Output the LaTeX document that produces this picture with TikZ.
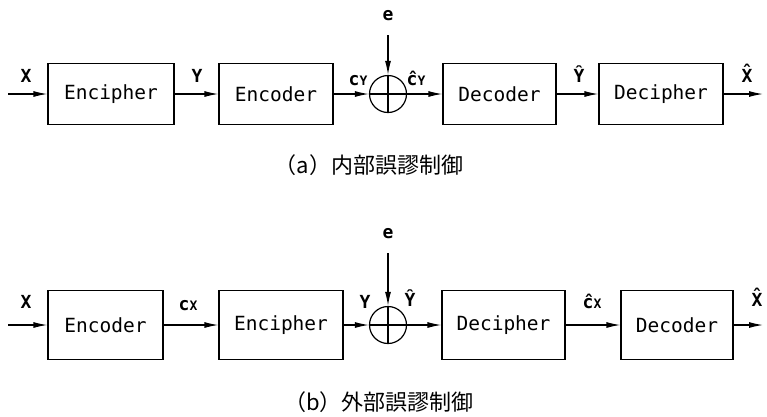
\documentclass[tikz,border=0pt]{standalone}
\usepackage{fontspec}
\setmonofont{DejaVu Sans Mono}
\newfontfamily\jpfont{Noto Sans CJK JP}
\usetikzlibrary{arrows.meta}
\begin{document}
\begin{tikzpicture}[x=1pt,y=-1pt,
 blk/.style={draw, line width=1.2pt, minimum height=61pt, inner sep=0pt, font=\fontsize{19.5}{19.5}\ttfamily},
 sumc/.style={draw, circle, line width=1.2pt, minimum size=37pt, inner sep=0pt},
 sig/.style={line width=1.2pt, -{Latex[length=14pt,width=6pt]}},
 lab/.style={font=\fontsize{18}{18}\ttfamily\bfseries, inner sep=0pt, anchor=base},
 capt/.style={font=\fontsize{22}{22}\jpfont, inner sep=0pt}]
\useasboundingbox (0,0) rectangle (767,416);
\newcommand\smY{{\fontsize{13}{13}\selectfont Y}}
\newcommand\smX{{\fontsize{13}{13}\selectfont X}}
% ---- (a) ----
\coordinate (ina) at (8,94);
\coordinate (outa) at (763,94);
\node[blk, minimum width=126pt] (a1) at (111,94) {Encipher};
\node[blk, minimum width=114pt] (a2) at (276,94) {Encoder};
\node[sumc] (ca) at (388,94) {};
\node[blk, minimum width=113pt] (a3) at (499.5,94) {Decoder};
\node[blk, minimum width=124pt] (a4) at (661,94) {Decipher};
\node[lab] (ela) at (388,20) {e};
\coordinate (ea) at (388,35);
\draw[line width=1.2pt] (ca.north) -- (ca.south) (ca.west) -- (ca.east);
\draw[sig] (ea) -- (ca.north);
\draw[sig] (ina) -- (a1.west);
\draw[sig] (a1.east) -- (a2.west);
\draw[sig] (a2.east) -- (ca.west);
\draw[sig] (ca.east) -- (a3.west);
\draw[sig] (a3.east) -- (a4.west);
\draw[sig] (a4.east) -- (outa);
\node[lab] (lxa) at (26,82) {X};
\node[lab] (lya) at (197,82) {Y};
\node[lab] (lcya) at (358,85) {c\smY};
\node[lab] (lcyha) at (416,85) {ĉ\smY};
\node[lab] (lyha) at (579,82) {Ŷ};
\node[lab] (lxha) at (747,82) {X̂};
\node[capt] (capa) at (369,165) {（a）内部誤謬制御};
% ---- (b) ----
\coordinate (inb) at (8,325);
\coordinate (outb) at (763,325);
\node[blk, minimum width=115pt, minimum height=69pt] (b1) at (105.5,325) {Encoder};
\node[blk, minimum width=124pt, minimum height=69pt] (b2) at (281,325) {Encipher};
\node[sumc] (cb) at (388,325) {};
\node[blk, minimum width=123pt, minimum height=69pt] (b3) at (503.5,325) {Decipher};
\node[blk, minimum width=112pt, minimum height=69pt] (b4) at (677,325) {Decoder};
\node[lab] (elb) at (388,238) {e};
\coordinate (eb) at (388,253);
\draw[line width=1.2pt] (cb.north) -- (cb.south) (cb.west) -- (cb.east);
\draw[sig] (eb) -- (cb.north);
\draw[sig] (inb) -- (b1.west);
\draw[sig] (b1.east) -- (b2.west);
\draw[sig] (b2.east) -- (cb.west);
\draw[sig] (cb.east) -- (b3.west);
\draw[sig] (b3.east) -- (b4.west);
\draw[sig] (b4.east) -- (outb);
\node[lab] (lxb) at (26,308) {X};
\node[lab] (lcxb) at (188,310) {c\smX};
\node[lab] (lyb) at (365,308) {Y};
\node[lab] (lyhb) at (410,306) {Ŷ};
\node[lab] (lcxhb) at (592,308) {ĉ\smX};
\node[lab] (lxhb) at (757,306) {X̂};
\node[capt] (capb) at (379,402) {（b）外部誤謬制御};
\end{tikzpicture}
\end{document}
